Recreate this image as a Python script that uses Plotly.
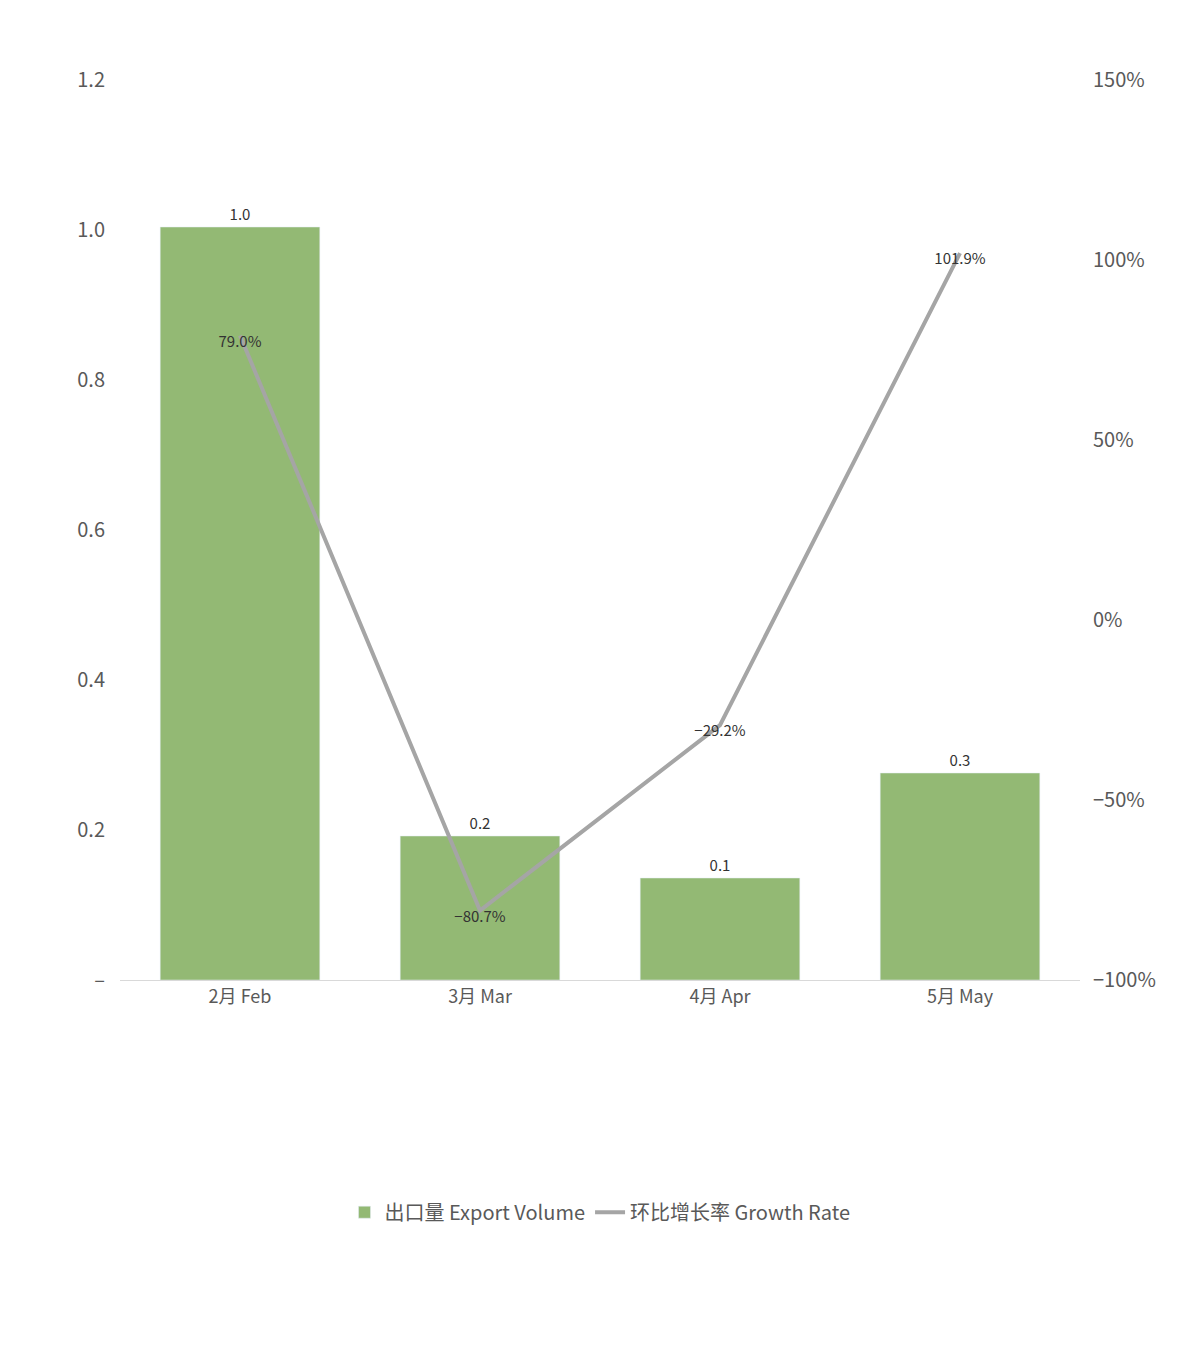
import plotly.graph_objs as go

months = ['2月 Feb', '3月 Mar', '4月 Apr', '5月 May']
volume = [1.004, 0.192, 0.136, 0.276]
volume_labels = ['1.0', '0.2', '0.1', '0.3']
growth = [79.0, -80.7, -29.2, 101.9]
growth_labels = ['79.0%', '−80.7%', '−29.2%', '101.9%']

left_ticks = [0, 0.2, 0.4, 0.6, 0.8, 1.0, 1.2]
left_tick_text = ['–', '0.2', '0.4', '0.6', '0.8', '1.0', '1.2']
right_ticks = [-100, -50, 0, 50, 100, 150]
right_tick_text = ['−100%', '−50%', '0%', '50%', '100%', '150%']

bars = go.Bar(x=months, y=volume, name='出口量 Export Volume',
              marker=dict(color='#93b974'),
              text=volume_labels, textposition='outside',
              textfont=dict(size=15, color='#333333'), cliponaxis=False)

line = go.Scatter(x=months, y=growth, name='环比增长率 Growth Rate',
                  yaxis='y2', mode='lines+text',
                  line=dict(color='#a5a5a5', width=4),
                  text=growth_labels, textposition='bottom center',
                  textfont=dict(size=15, color='#333333'), cliponaxis=False)

font = 'Noto Sans CJK SC, Noto Sans, sans-serif'
layout = go.Layout(
    width=1200, height=1360,
    margin=dict(l=112, r=128, t=72, b=388),
    paper_bgcolor='white', plot_bgcolor='white',
    font=dict(family=font, color='#595959', size=18),
    bargap=0.335,
    showlegend=True,
    legend=dict(orientation='h', x=0.5, xanchor='center', y=-0.258, yanchor='middle',
                font=dict(size=20, color='#595959'), traceorder='normal'),
    xaxis=dict(showgrid=False, showline=True, linecolor='#d9d9d9',
               ticks='', tickfont=dict(size=18)),
    yaxis=dict(range=[0, 1.2], tickvals=left_ticks, ticktext=left_tick_text,
               showgrid=False, zeroline=False, ticklabelstandoff=14,
               tickfont=dict(size=20)),
    yaxis2=dict(range=[-100, 150], tickvals=right_ticks, ticktext=right_tick_text,
                overlaying='y', side='right', showgrid=False, zeroline=False,
                ticklabelstandoff=12, tickfont=dict(size=20)),
)

fig = go.Figure(data=[bars, line], layout=layout)
fig.write_html('out.html')
